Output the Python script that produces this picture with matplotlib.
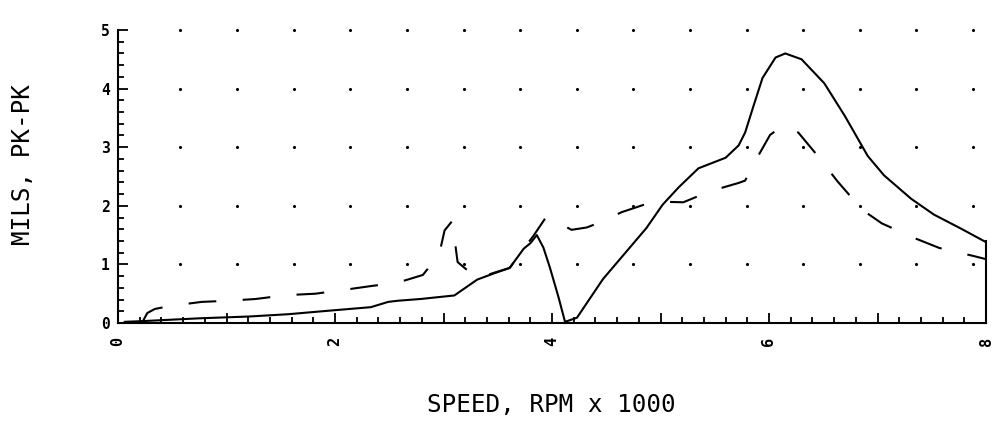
import matplotlib
matplotlib.use("Agg")
import matplotlib.pyplot as plt
from matplotlib.ticker import MultipleLocator, FuncFormatter
import numpy as np

# speed in rpm x 1000, amplitude in mils pk-pk
speed_solid = [0.06, 0.2, 0.75, 1.2, 1.57, 1.88, 2.33, 2.49, 2.58, 2.79, 3.10,
               3.31, 3.47, 3.61, 3.74, 3.80, 3.86, 3.92, 3.98, 4.06, 4.12, 4.23,
               4.47, 4.87, 5.02, 5.17, 5.35, 5.60, 5.72, 5.78, 5.86, 5.94, 6.06,
               6.15, 6.30, 6.51, 6.70, 6.91, 7.06, 7.31, 7.52, 7.77, 8.0]
amp_solid = [0.02, 0.03, 0.08, 0.11, 0.15, 0.20, 0.27, 0.36, 0.38, 0.41, 0.47,
             0.74, 0.85, 0.94, 1.27, 1.36, 1.50, 1.29, 0.95, 0.44, 0.02, 0.09,
             0.75, 1.62, 2.02, 2.32, 2.64, 2.82, 3.03, 3.25, 3.72, 4.18, 4.53,
             4.60, 4.50, 4.09, 3.53, 2.85, 2.52, 2.12, 1.85, 1.61, 1.38]

speed_dash = [0.22, 0.27, 0.34, 0.48, 0.77, 1.02, 1.27, 1.55, 1.82, 2.10, 2.33,
              2.58, 2.81, 2.96, 3.01, 3.08, 3.13, 3.31, 3.47, 3.61, 3.74, 3.83,
              3.95, 4.18, 4.32, 4.46, 4.64, 4.85, 5.0, 5.21, 5.46, 5.72, 5.78,
              5.86, 6.01, 6.13, 6.27, 6.45, 6.63, 6.86, 7.04, 7.34, 7.57, 7.87, 8.0]
amp_dash = [0.0, 0.17, 0.24, 0.29, 0.36, 0.38, 0.41, 0.475, 0.50, 0.57, 0.63,
            0.69, 0.82, 1.17, 1.58, 1.74, 1.04, 0.76, 0.86, 0.94, 1.27, 1.49,
            1.82, 1.59, 1.63, 1.73, 1.89, 2.02, 2.07, 2.06, 2.25, 2.39, 2.43,
            2.72, 3.21, 3.37, 3.25, 2.85, 2.42, 1.93, 1.70, 1.45, 1.28, 1.15, 1.09]

x_labels = ["0", "2", "4", "6", "8"]

# plotter dot grid
dot_x = 0.576 + 0.5217 * np.arange(15)
dot_y = [1, 2, 3, 4, 5]

plt.rcParams['font.family'] = ['DejaVu Sans Mono', 'DejaVu Sans']
plt.rcParams['lines.scale_dashes'] = False

fig = plt.figure(figsize=(9.94, 4.22), dpi=100)
ax = fig.add_axes([118/994, 1 - 323/422, 868/994, 293/422])

gx, gy = np.meshgrid(dot_x, dot_y)
ax.plot(gx.ravel(), gy.ravel(), 'k.', ms=2.5, ls='none', clip_on=False)

ax.plot(speed_solid, amp_solid, color='k', lw=1.5, solid_capstyle='round')
ax.plot(speed_dash, amp_dash, color='k', lw=1.5, dashes=(20, 19))

ax.set_xlim(0, 8)
ax.set_ylim(0, 5)
ax.spines['top'].set_visible(False)
ax.spines['right'].set_bounds(0, 1.4)
for s in ['left', 'bottom', 'right']:
    ax.spines[s].set_linewidth(1.5)

ax.xaxis.set_major_locator(MultipleLocator(1))
ax.xaxis.set_minor_locator(MultipleLocator(0.2))
ax.yaxis.set_major_locator(MultipleLocator(1))
ax.yaxis.set_minor_locator(MultipleLocator(0.2))
ax.xaxis.set_major_formatter(FuncFormatter(
    lambda v, p: x_labels[int(round(v)) // 2] if int(round(v)) % 2 == 0 else ""))

ax.tick_params(which='both', direction='in', width=1.3, right=False, top=False)
ax.tick_params(which='major', length=7.5)
ax.tick_params(which='minor', length=4.5)
ax.tick_params(axis='y', which='major', pad=6, labelsize=10.5)
ax.tick_params(axis='x', which='major', pad=10, labelsize=11, labelrotation=90)
for t in ax.get_xticklabels() + ax.get_yticklabels():
    t.set_fontweight('bold')

fig.text(0.023, 0.609, "MILS, PK-PK", rotation=90, ha='center', va='center',
         fontsize=17.5)
fig.text(0.555, 0.040, "SPEED, RPM x 1000", ha='center', va='center',
         fontsize=17.5)

fig.savefig("out.png", dpi=100)
